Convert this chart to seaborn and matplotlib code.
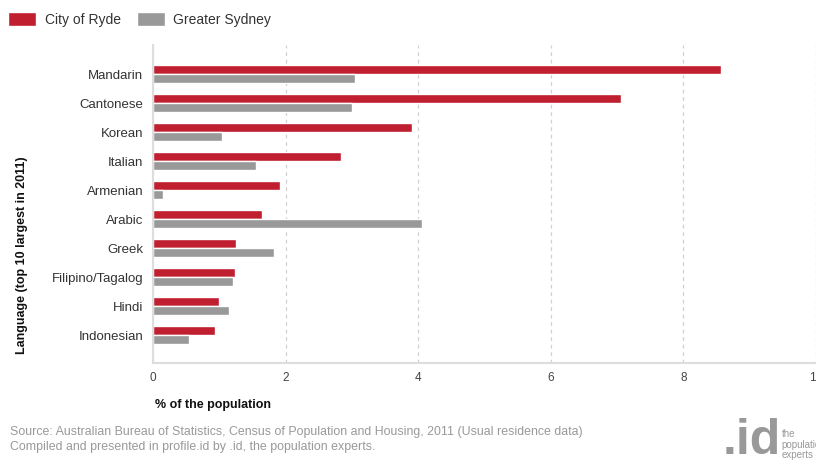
import numpy as np
import pandas as pd
import matplotlib
matplotlib.use("Agg")
import matplotlib.pyplot as plt
import seaborn as sns

languages = ["Mandarin", "Cantonese", "Korean", "Italian", "Armenian",
             "Arabic", "Greek", "Filipino/Tagalog", "Hindi", "Indonesian"]
ryde = [8.57, 7.06, 3.91, 2.84, 1.92, 1.64, 1.25, 1.24, 1.00, 0.94]
sydney = [3.05, 3.00, 1.04, 1.55, 0.15, 4.06, 1.83, 1.21, 1.15, 0.54]
series_names = ["City of Ryde", "Greater Sydney"]
x_ticks = [0, 2, 4, 6, 8, 10]

df = pd.DataFrame({
    "language": languages * 2,
    "pct": ryde + sydney,
    "area": [series_names[0]] * len(languages) + [series_names[1]] * len(languages),
})

sns.set_style("white")
plt.rcParams['font.family'] = ['Liberation Sans', 'DejaVu Sans']

fig = plt.figure(figsize=(8.16, 4.64), dpi=100)
ax = fig.add_axes([0.1875, 0.2155, 0.8125, 0.6855])

colors = {"City of Ryde": "#c01f2f", "Greater Sydney": "#999999"}
sns.barplot(data=df, y="language", x="pct", hue="area", order=languages,
            hue_order=series_names, palette=colors, width=0.62, orient="h",
            saturation=1, ax=ax, legend=True)

ax.set_xlim(0, 10)
ax.set_ylim(9.97, -1.0)
ax.set_xticks(x_ticks)
ax.set_xticklabels([str(t) for t in x_ticks], fontsize=8.5, color="#444444")
ax.tick_params(axis="y", labelsize=9.5, colors="#333333", length=5, width=1,
               pad=2)
ax.tick_params(axis="y", color="#dddddd")
ax.tick_params(axis="x", length=5, color="#dddddd", pad=6, direction="in")
ax.xaxis.grid(True, linestyle=(0, (3, 3)), color="#d0d0d0", linewidth=0.9)
ax.set_axisbelow(True)
for s in ["top", "right"]:
    ax.spines[s].set_visible(False)
ax.spines["left"].set_color("#dddddd")
ax.spines["left"].set_linewidth(1.5)
ax.spines["bottom"].set_color("#dddddd")
ax.spines["bottom"].set_linewidth(1.5)

ax.set_ylabel("")
ax.set_xlabel("")
fig.text(0.027, 0.45, "Language (top 10 largest in 2011)", rotation=90,
         fontsize=9, fontweight="bold", ha="center", va="center", color="#111111")
fig.text(0.19, 0.127, "% of the population", fontsize=9, fontweight="bold",
         ha="left", va="center", color="#111111")

handles, labels = ax.get_legend_handles_labels()
ax.get_legend().remove()
fig.legend(handles, labels, loc="upper left", bbox_to_anchor=(-0.005, 1.0),
           ncol=2, frameon=False, fontsize=10, handlelength=2.0,
           handleheight=1.2, columnspacing=1.2, handletextpad=0.6,
           labelcolor="#333333")

fig.text(0.012, 0.068, "Source: Australian Bureau of Statistics, Census of Population and Housing, 2011 (Usual residence data)",
         fontsize=8.9, color="#999999", ha="left", va="center")
fig.text(0.012, 0.037, "Compiled and presented in profile.id by .id, the population experts.",
         fontsize=8.9, color="#999999", ha="left", va="center")

fig.text(0.885, 0.0, ".id", fontsize=36, fontweight="bold", color="#999999",
         ha="left", va="bottom")
fig.text(0.958, 0.008, "the\npopulation\nexperts", fontsize=7, color="#999999",
         ha="left", va="bottom", linespacing=1.05)

fig.savefig("out.png", dpi=100)
